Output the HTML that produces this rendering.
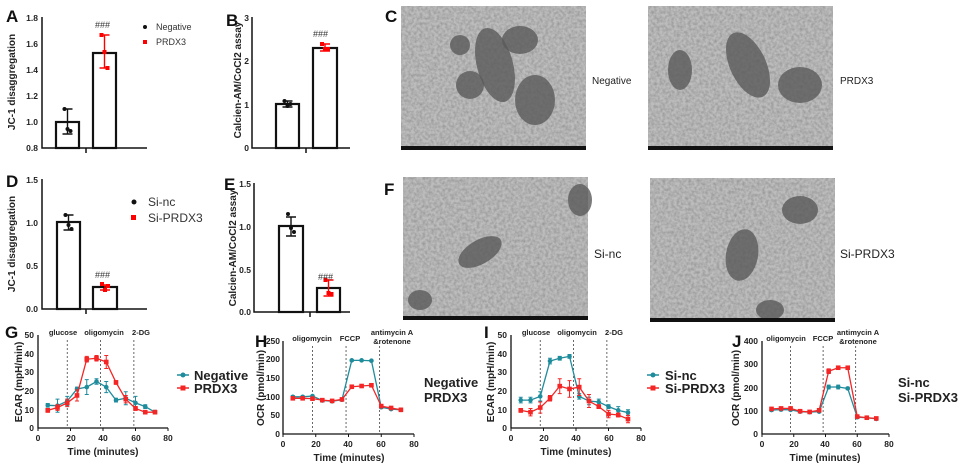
<!DOCTYPE html>
<html><head><meta charset="utf-8"><style>
html,body{margin:0;padding:0;background:#fff;}
svg{display:block;font-family:"Liberation Sans",Arial,sans-serif;}
.t{font-size:8.5px;font-weight:bold;fill:#222;}
.yl{font-size:10px;font-weight:bold;fill:#222;}
.pl{font-size:17px;font-weight:bold;fill:#111;}
.an{font-size:7.5px;font-weight:bold;fill:#222;}
.lg{font-size:13px;font-weight:bold;fill:#222;}
</style></head><body>
<svg id="s" width="958" height="471" viewBox="0 0 958 471" xmlns="http://www.w3.org/2000/svg">
<defs>
<filter id="n" x="0" y="0" width="100%" height="100%">
<feTurbulence type="fractalNoise" baseFrequency="0.35" numOctaves="2" seed="3"/>
<feColorMatrix type="matrix" values="0 0 0 0 0.3  0 0 0 0 0.3  0 0 0 0 0.3  0 0 0 -1.6 1.1"/>
</filter>
</defs>
<g id="em"></g>
<g fill="none" stroke="#111" stroke-width="1.5" id="bars">
<path d="M42 17 V148 H147 M86 148 v5"/>
<rect x="56" y="122" width="23" height="26" stroke-width="2.2"/>
<rect x="93" y="53" width="23" height="95" stroke-width="2.2"/>
<path d="M252 17 V148 H350 M306 148 v5"/>
<rect x="276" y="104" width="23" height="44" stroke-width="2.2"/>
<rect x="313" y="48" width="24" height="100" stroke-width="2.2"/>
<path d="M42 179 V309 H147 M86 309 v5"/>
<rect x="57" y="222" width="23" height="87" stroke-width="2.2"/>
<rect x="93" y="287" width="24" height="22" stroke-width="2.2"/>
<path d="M254 183 V312 H350 M310 312 v5"/>
<rect x="279" y="226" width="24" height="86" stroke-width="2.2"/>
<rect x="317" y="288" width="23" height="24" stroke-width="2.2"/>
</g>
<g id="dyn"></g>
<text class="pl" x="6" y="22">A</text>
<text class="pl" x="226" y="26">B</text>
<text class="pl" x="385" y="22">C</text>
<text class="pl" x="6" y="187">D</text>
<text class="pl" x="224" y="190">E</text>
<text class="pl" x="384" y="195">F</text>
<text class="pl" x="5" y="338">G</text>
<text class="pl" x="255" y="347">H</text>
<text class="pl" x="484" y="338">I</text>
<text class="pl" x="732" y="347">J</text>
<g class="t" text-anchor="end">
<text x="38" y="21">1.8</text><text x="38" y="47">1.6</text><text x="38" y="73">1.4</text><text x="38" y="99">1.2</text><text x="38" y="125">1.0</text><text x="38" y="151">0.8</text>
<text x="249" y="21">3</text><text x="249" y="64">2</text><text x="249" y="108">1</text><text x="249" y="151">0</text>
<text x="38" y="183">1.5</text><text x="38" y="226">1.0</text><text x="38" y="269">0.5</text><text x="38" y="312">0.0</text>
<text x="251" y="187">1.5</text><text x="251" y="230">1.0</text><text x="251" y="273">0.5</text><text x="251" y="315">0.0</text>
</g>
<text class="yl" transform="translate(15,82) rotate(-90)" text-anchor="middle">JC-1 disaggregation</text>
<text class="yl" transform="translate(241,80) rotate(-90)" text-anchor="middle" font-size="9.5">Calcien-AM/CoCl2 assay</text>
<text class="yl" transform="translate(15,244) rotate(-90)" text-anchor="middle">JC-1 disaggregation</text>
<text class="yl" transform="translate(236,248) rotate(-90)" text-anchor="middle" font-size="9.5">Calcien-AM/CoCl2 assay</text>
<g font-size="9" fill="#333"><text x="95" y="28">###</text><text x="313" y="37">###</text><text x="95" y="278">###</text><text x="318" y="280">###</text></g>
<circle cx="145" cy="27" r="2" fill="#111"/><rect x="143" y="40" width="4" height="4" fill="#f00"/>
<text x="156" y="30" font-size="9" fill="#333">Negative</text><text x="156" y="45" font-size="9" fill="#333">PRDX3</text>
<circle cx="134" cy="202" r="2.5" fill="#111"/><rect x="131" y="215" width="5" height="5" fill="#f00"/>
<text x="148" y="206" font-size="12" fill="#333">Si-nc</text><text x="148" y="222" font-size="12" fill="#333">Si-PRDX3</text>
<g font-size="10" fill="#222"><text x="592" y="84">Negative</text><text x="840" y="84">PRDX3</text>
<text x="594" y="258" font-size="12">Si-nc</text><text x="840" y="258" font-size="12">Si-PRDX3</text></g>
<g class="t" text-anchor="end">
<text x="34" y="338">50</text><text x="34" y="357">40</text><text x="34" y="375">30</text><text x="34" y="394">20</text><text x="34" y="413">10</text><text x="34" y="431">0</text>
<text x="280" y="344">250</text><text x="280" y="362">200</text><text x="280" y="381">150</text><text x="280" y="400">100</text><text x="280" y="418">50</text><text x="280" y="437">0</text>
<text x="507" y="338">50</text><text x="507" y="357">40</text><text x="507" y="375">30</text><text x="507" y="394">20</text><text x="507" y="413">10</text><text x="507" y="431">0</text>
<text x="758" y="344">400</text><text x="758" y="367">300</text><text x="758" y="391">200</text><text x="758" y="414">100</text><text x="758" y="437">0</text>
</g>
<g class="t" text-anchor="middle">
<text x="38" y="441">0</text><text x="71" y="441">20</text><text x="103" y="441">40</text><text x="136" y="441">60</text><text x="168" y="441">80</text>
<text x="283" y="447">0</text><text x="316" y="447">20</text><text x="348" y="447">40</text><text x="381" y="447">60</text><text x="414" y="447">80</text>
<text x="511" y="441">0</text><text x="544" y="441">20</text><text x="576" y="441">40</text><text x="609" y="441">60</text><text x="641" y="441">80</text>
<text x="762" y="447">0</text><text x="794" y="447">20</text><text x="825" y="447">40</text><text x="857" y="447">60</text><text x="889" y="447">80</text>
<text class="yl" x="103" y="455">Time (minutes)</text><text class="yl" x="349" y="461">Time (minutes)</text>
<text class="yl" x="576" y="455">Time (minutes)</text><text class="yl" x="825" y="461">Time (minutes)</text>
</g>
<text class="yl" transform="translate(22,382) rotate(-90)" text-anchor="middle">ECAR (mpH/min)</text>
<text class="yl" transform="translate(264,388) rotate(-90)" text-anchor="middle">OCR (pmol/min)</text>
<text class="yl" transform="translate(494,382) rotate(-90)" text-anchor="middle">ECAR (mpH/min)</text>
<text class="yl" transform="translate(739,388) rotate(-90)" text-anchor="middle">OCR (pmol/min)</text>
<g class="an" text-anchor="middle">
<text x="63" y="335">glucose</text><text x="104" y="335">oligomycin</text><text x="141" y="335">2-DG</text>
<text x="312" y="341">oligomycin</text><text x="350" y="341">FCCP</text><text x="392" y="335">antimycin A</text><text x="392" y="344">&amp;rotenone</text>
<text x="536" y="335">glucose</text><text x="577" y="335">oligomycin</text><text x="614" y="335">2-DG</text>
<text x="786" y="341">oligomycin</text><text x="823" y="341">FCCP</text><text x="858" y="335">antimycin A</text><text x="858" y="344">&amp;rotenone</text>
</g>
<g class="lg"><text x="194" y="380">Negative</text><text x="194" y="393">PRDX3</text>
<text x="424" y="387">Negative</text><text x="424" y="402">PRDX3</text>
<text x="665" y="380">Si-nc</text><text x="665" y="393">Si-PRDX3</text>
<text x="898" y="387">Si-nc</text><text x="898" y="402">Si-PRDX3</text></g>
</svg>
<script>
var NS="http://www.w3.org/2000/svg",d=document.getElementById("dyn"),em=document.getElementById("em");
function el(p,t,a){var e=document.createElementNS(NS,t);for(var k in a)e.setAttribute(k,a[k]);p.appendChild(e);return e;}
var ims=[[401,6,185,144],[648,6,185,144],[403,177,185,143],[650,178,185,144]];
var blobs=[[[470,85,14,14],[495,65,18,38,-15],[460,45,10,10],[520,40,18,14],[535,100,20,25]],
[[748,65,18,35,-25],[800,85,22,18],[680,70,12,20]],
[[480,252,24,12,-30],[580,200,12,16],[420,300,12,10]],
[[742,255,16,26,10],[800,210,18,14],[770,310,14,10]]];
ims.forEach(function(r,i){
 el(em,"rect",{x:r[0],y:r[1],width:r[2],height:r[3],fill:"#bdbdbd"});
 el(em,"rect",{x:r[0],y:r[1],width:r[2],height:r[3],filter:"url(#n)"});
 blobs[i].forEach(function(b){el(em,"ellipse",{cx:b[0],cy:b[1],rx:b[2],ry:b[3],fill:"#5a5a5a",opacity:0.8,transform:"rotate("+(b[4]||0)+" "+b[0]+" "+b[1]+")"});});
 el(em,"rect",{x:r[0],y:r[1]+r[3]-4,width:r[2],height:4,fill:"#111"});
});
function pts(cx,ys,col,sq){ys.forEach(function(y,j){var x=cx+(j-1)*3;if(sq)el(d,"rect",{x:x-2,y:y-2,width:4,height:4,fill:col});else el(d,"circle",{cx:x,cy:y,r:2,fill:col});});}
function err(cx,y1,y2,col){el(d,"path",{d:"M"+cx+" "+y1+"V"+y2+"M"+(cx-5)+" "+y1+"h10M"+(cx-5)+" "+y2+"h10",stroke:col,"stroke-width":1.4,fill:"none"});}
err(67.5,109,134,"#111");pts(67.5,[109,129,131],"#111");
err(104.5,35,68,"#f00");pts(104.5,[35,52,68],"#f00",1);
err(287.5,101,107,"#111");pts(287.5,[101,106,104],"#111");
err(325,44,51,"#f00");pts(325,[44,49,49],"#f00",1);
err(68.5,215,230,"#111");pts(68.5,[215,225,229],"#111");
err(105,285,290,"#f00");pts(105,[284,290,286],"#f00",1);
err(291,217,236,"#111");pts(291,[214,228,232],"#111");
err(328.5,280,296,"#f00");pts(328.5,[280,293,294],"#f00",1);
var T=[6,12,18,24,30,36,42,48,54,60,66,72],TE="#1f8c9c",RE="#f42525";
function chart(x0,xs,yb,ys,x80,ytop,series){
 el(d,"path",{d:"M"+x0+" "+ytop+"V"+yb+"H"+x80,stroke:"#111","stroke-width":1.3,fill:"none"});
 for(var v=0;v<=80;v+=20)el(d,"path",{d:"M"+(x0+v*xs)+" "+yb+"v3",stroke:"#111","stroke-width":1});
 [18,38.5,59].forEach(function(t){el(d,"path",{d:"M"+(x0+t*xs)+" "+(ytop+5)+"V"+yb,stroke:"#444","stroke-width":0.8,"stroke-dasharray":"2,2"});});
 series.forEach(function(s){var p=s[0].map(function(v,i){return (x0+T[i]*xs)+","+(yb-v*ys)}).join(" ");
  el(d,"polyline",{points:p,stroke:s[1],fill:"none","stroke-width":1.3});
  s[0].forEach(function(v,i){var x=x0+T[i]*xs,y=yb-v*ys,e=(s[2]?s[2][i]:0)*ys;
   if(e)el(d,"path",{d:"M"+x+" "+(y-e)+"V"+(y+e)+"M"+(x-2)+" "+(y-e)+"h4M"+(x-2)+" "+(y+e)+"h4",stroke:s[1],"stroke-width":1,fill:"none"});
   if(s[3])el(d,"rect",{x:x-2.3,y:y-2.3,width:4.6,height:4.6,fill:s[1]});else el(d,"circle",{cx:x,cy:y,r:2.3,fill:s[1]});});});
}
chart(38,1.625,428,1.86,168,335,[
 [[12.2,12,14.5,21,22,25,22,15,16,13.5,11.5,8.5],TE,[1,3.5,2.5,1,4,1.5,3,1,3.5,3.5,1,1]],
 [[9.5,11,13.5,17.5,37,37.5,35.5,24.5,15.5,10.5,8.5,8.5],RE,[1,1.5,2,3,1.5,1.5,3.5,1,2,1,0.5,1],1]]);
chart(283,1.6375,434,0.372,414,341,[
 [[100,100,102,90,88,92,198,198,197,72,67,65],TE,[3,2,2,2,2,2,2,2,2,3,2,2]],
 [[96,96,95,91,89,93,127,129,131,75,70,65],RE,[2,2,2,2,2,2,3,3,3,2,2,2],1]]);
chart(511,1.625,428,1.86,641,335,[
 [[15,15,17,36,37.5,38.5,17,14.5,14,11.5,9.5,8.3],TE,[1.5,1.5,2.5,1.5,1,1,1.5,2,1.5,1,2,1.5]],
 [[9.5,8.5,11,16,22.5,21,22,14.5,11.5,7.5,7,4.8],RE,[1,2,3,1.5,4,4.5,4.5,3.5,1,2,1,2],1]]);
chart(762,1.5875,434,0.2325,889,341,[
 [[103,105,104,96,94,96,202,202,196,72,70,65],TE,[5,5,5,4,4,4,8,8,5,5,4,4]],
 [[108,110,110,98,95,102,270,285,285,75,70,67],RE,[5,5,5,4,4,5,10,6,6,5,4,4],1]]);
[[177,375,TE,0],[177,388,RE,1],[647,375,TE,0],[647,388,RE,1]].forEach(function(l){
 el(d,"path",{d:"M"+l[0]+" "+l[1]+"h12",stroke:l[2],"stroke-width":1.5});
 if(l[3])el(d,"rect",{x:l[0]+3.5,y:l[1]-2.5,width:5,height:5,fill:l[2]});else el(d,"circle",{cx:l[0]+6,cy:l[1],r:2.5,fill:l[2]});});
</script>
</body></html>
